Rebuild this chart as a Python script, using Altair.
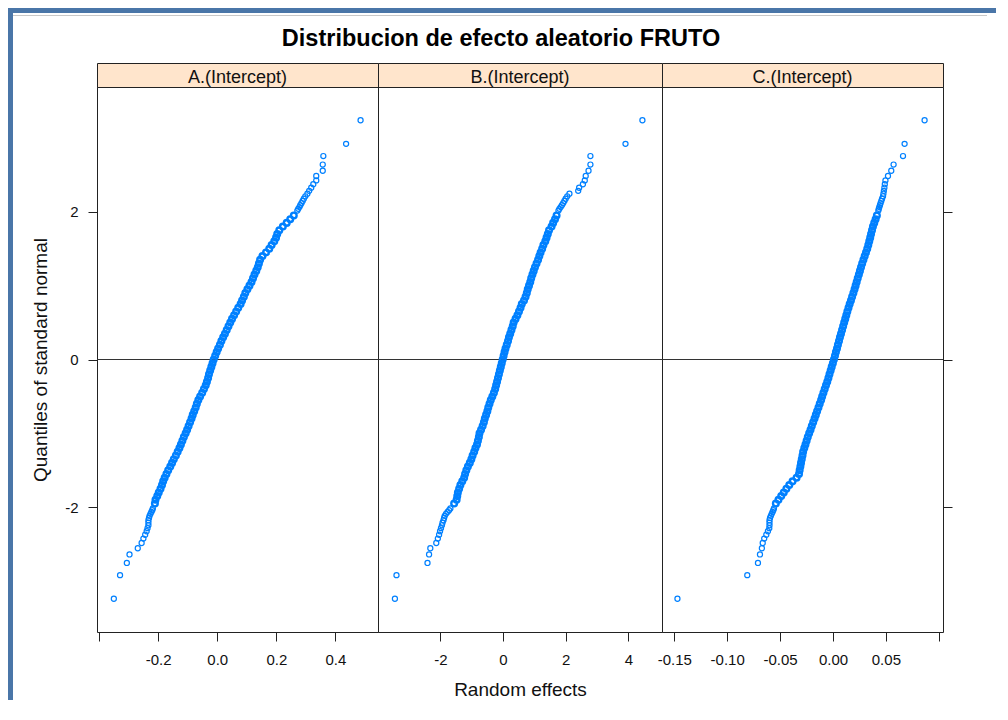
import altair as alt
import pandas as pd

# ---------------- data ----------------
# theoretical quantiles of the standard normal (shared by the three panels)
normal_quantiles = [
    3.24, 2.92, 2.755, 2.64, 2.556, 2.485, 2.425, 2.373, 2.326, 2.284,
    2.245, 2.21, 2.177, 2.146, 2.117, 2.09, 2.064, 2.04, 2.016,
    1.95, 1.90, 1.85, 1.80, 1.75, 1.70, 1.65, 1.60, 1.55, 1.50,
    1.45, 1.40, 1.35, 1.30, 1.25, 1.20, 1.15, 1.10, 1.05, 1.00,
    0.95, 0.90, 0.85, 0.80, 0.75, 0.70, 0.65, 0.60, 0.55, 0.50,
    0.45, 0.40, 0.35, 0.30, 0.25, 0.20, 0.15, 0.10, 0.05, 0.00,
    -0.05, -0.10, -0.15, -0.20, -0.25, -0.30, -0.35, -0.40, -0.45, -0.50,
    -0.55, -0.60, -0.65, -0.70, -0.75, -0.80, -0.85, -0.90, -0.95, -1.00,
    -1.05, -1.10, -1.15, -1.20, -1.25, -1.30, -1.35, -1.40, -1.45, -1.50,
    -1.55, -1.60, -1.65, -1.70, -1.75, -1.80, -1.85, -1.90, -1.95,
    -2.016, -2.04, -2.064, -2.09, -2.117, -2.146, -2.177, -2.21, -2.245, -2.284,
    -2.326, -2.373, -2.425, -2.485, -2.556, -2.64, -2.755, -2.92, -3.24,
]

# random effects, panel A
re_A = [
    0.485, 0.436, 0.359, 0.357, 0.357, 0.335, 0.335, 0.325, 0.318, 0.311,
    0.305, 0.298, 0.293, 0.289, 0.285, 0.281, 0.278, 0.274, 0.271,
    0.259, 0.247, 0.235, 0.222, 0.210, 0.203, 0.199, 0.193, 0.184, 0.176,
    0.165, 0.153, 0.145, 0.141, 0.137, 0.132, 0.126, 0.121, 0.116, 0.109,
    0.102, 0.095, 0.090, 0.084, 0.079, 0.071, 0.064, 0.057, 0.050, 0.044,
    0.038, 0.032, 0.026, 0.020, 0.014, 0.009, 0.003, -0.002, -0.007, -0.012,
    -0.016, -0.020, -0.024, -0.028, -0.031, -0.035, -0.039, -0.045, -0.051, -0.058,
    -0.064, -0.069, -0.073, -0.078, -0.083, -0.087, -0.092, -0.097, -0.102, -0.107,
    -0.113, -0.118, -0.123, -0.128, -0.134, -0.140, -0.147, -0.153, -0.159, -0.166,
    -0.172, -0.178, -0.183, -0.187, -0.192, -0.198, -0.203, -0.209, -0.211,
    -0.218, -0.220, -0.223, -0.226, -0.229, -0.231, -0.233, -0.233, -0.233, -0.236,
    -0.239, -0.244, -0.250, -0.256, -0.269, -0.297, -0.306, -0.329, -0.350,
]

# random effects, panel B
re_B = [
    4.45, 3.91, 2.79, 2.79, 2.73, 2.64, 2.61, 2.55, 2.43, 2.40,
    2.12, 2.05, 2.00, 1.96, 1.92, 1.88, 1.84, 1.80, 1.77,
    1.71, 1.66, 1.60, 1.55, 1.47, 1.43, 1.39, 1.35, 1.29, 1.25,
    1.20, 1.16, 1.12, 1.07, 1.02, 0.98, 0.94, 0.90, 0.87, 0.83,
    0.79, 0.76, 0.72, 0.67, 0.60, 0.56, 0.51, 0.46, 0.40, 0.34,
    0.31, 0.27, 0.23, 0.19, 0.16, 0.12, 0.08, 0.05, 0.02, -0.01,
    -0.04, -0.07, -0.10, -0.13, -0.16, -0.19, -0.22, -0.25, -0.29, -0.34,
    -0.39, -0.43, -0.47, -0.50, -0.54, -0.58, -0.61, -0.65, -0.70, -0.75,
    -0.77, -0.80, -0.83, -0.88, -0.92, -0.97, -1.01, -1.06, -1.12, -1.17,
    -1.21, -1.24, -1.30, -1.36, -1.40, -1.44, -1.46, -1.48, -1.56,
    -1.68, -1.72, -1.77, -1.82, -1.86, -1.88, -1.90, -1.93, -1.95, -1.98,
    -2.01, -2.04, -2.08, -2.13, -2.32, -2.36, -2.41, -3.40, -3.45,
]

# random effects, panel C
re_C = [
    0.0866, 0.0677, 0.0662, 0.0573, 0.0551, 0.0520, 0.0496, 0.0490, 0.0486, 0.0481,
    0.0477, 0.0473, 0.0464, 0.0457, 0.0450, 0.0444, 0.0438, 0.0433, 0.0429,
    0.0415, 0.0403, 0.0390, 0.0378, 0.0369, 0.0360, 0.0352, 0.0343, 0.0334, 0.0324,
    0.0312, 0.0300, 0.0288, 0.0276, 0.0265, 0.0255, 0.0245, 0.0234, 0.0224, 0.0214,
    0.0204, 0.0193, 0.0181, 0.0170, 0.0158, 0.0147, 0.0136, 0.0126, 0.0116, 0.0106,
    0.0096, 0.0086, 0.0076, 0.0066, 0.0057, 0.0047, 0.0038, 0.0028, 0.0019, 0.0009,
    -0.0001, -0.0012, -0.0022, -0.0033, -0.0043, -0.0054, -0.0066, -0.0078, -0.0090, -0.0102,
    -0.0112, -0.0125, -0.0137, -0.0150, -0.0162, -0.0174, -0.0187, -0.0200, -0.0212, -0.0225,
    -0.0238, -0.0249, -0.0260, -0.0271, -0.0282, -0.0288, -0.0295, -0.0302, -0.0308, -0.0315,
    -0.0321, -0.0344, -0.0382, -0.0413, -0.0440, -0.0465, -0.0489, -0.0515, -0.0540,
    -0.0558, -0.0564, -0.0571, -0.0579, -0.0587, -0.0595, -0.0600, -0.0600, -0.0600, -0.0602,
    -0.0615, -0.0630, -0.0650, -0.0664, -0.0672, -0.0690, -0.0709, -0.0810, -0.1470,
]

panel_labels = ["A.(Intercept)", "B.(Intercept)", "C.(Intercept)"]
ticks_A = [-0.4, -0.2, 0.0, 0.2, 0.4]
ticks_B = [-4, -2, 0, 2, 4]
ticks_C = [-0.15, -0.10, -0.05, 0.00, 0.05, 0.10]
ticks_y = [-2, 0, 2]

# ---------------- styling ----------------
FONT = "Liberation Sans"
POINT_COLOR = "#0080ff"
STRIP_FILL = "#ffe5cc"
FRAME_BLUE = "#4a76a8"
LINE = "#222222"
PLOT_H = 545
STRIP_H = 24
Y_DOMAIN = [-3.69, 3.69]
MINUS = "\u2212"


def fix_minus(expr):
    return "replace(" + expr + ", '" + MINUS + "', '-')"


def blank(w, h, fill=None):
    if fill:
        view = alt.ViewBackground(fill=fill, stroke="transparent", strokeWidth=0)
    else:
        view = alt.ViewBackground(stroke="transparent", strokeWidth=0)
    empty = pd.DataFrame({"t": pd.Series([], dtype="object")})
    return alt.Chart(empty).mark_text().encode(
        text="t:N"
    ).properties(width=w, height=h, view=view)


def y_enc(kind):
    if kind == "left":
        ax = alt.Axis(
            orient="left", values=ticks_y, tickSize=9, tickColor=LINE,
            labelPadding=10, labelFont=FONT, labelFontSize=15, labelColor="#111",
            labelExpr=fix_minus("format(datum.value, 'd')"), labelFlush=False,
            title="Quantiles of standard normal", titleFont=FONT, titleFontSize=19,
            titleFontWeight="normal", titleColor="#111", titlePadding=14,
            domain=False, grid=False,
        )
    elif kind == "right":
        ax = alt.Axis(
            orient="right", values=ticks_y, tickSize=9, tickColor=LINE,
            labels=False, title=None, domain=False, grid=False,
        )
    else:
        ax = None
    return alt.Y("y:Q", scale=alt.Scale(domain=Y_DOMAIN, nice=False, zero=False), axis=ax)


def panel(xs, domain, ticks, label_expr, width, ykind, xtitle):
    df = pd.DataFrame({"x": xs, "y": normal_quantiles})
    axis_kw = dict(
        values=ticks, tickSize=9, tickColor=LINE, labelPadding=11,
        labelFont=FONT, labelFontSize=15, labelColor="#111",
        labelExpr=label_expr, labelFlush=False, labelOverlap=False,
        domain=False, grid=False,
    )
    if xtitle:
        axis_kw.update(title=xtitle, titleFont=FONT, titleFontSize=19,
                       titleFontWeight="normal", titleColor="#111", titlePadding=13)
    else:
        axis_kw.update(title=None)
    pts = alt.Chart(df).mark_point(
        shape="circle", filled=False, color=POINT_COLOR, opacity=1
    ).encode(
        x=alt.X("x:Q", scale=alt.Scale(domain=domain, nice=False, zero=False),
                axis=alt.Axis(**axis_kw)),
        y=y_enc(ykind),
        # dense central run drawn heavier so that it reads as the solid band of the original
        strokeWidth=alt.condition("abs(datum.y) > 1.98", alt.value(1.2), alt.value(2.4)),
        size=alt.condition("abs(datum.y) > 1.98", alt.value(26), alt.value(32)),
    )
    zero = alt.Chart(pd.DataFrame({"y": [0.0]})).mark_rule(
        color="#333333", strokeWidth=1
    ).encode(y=y_enc(ykind))
    return alt.layer(zero, pts).properties(
        width=width, height=PLOT_H,
        view=alt.ViewBackground(stroke=LINE, strokeWidth=1),
    )


def strip(label, width):
    return alt.Chart(pd.DataFrame({"label": [label]})).mark_text(
        font=FONT, fontSize=18, color="#111", baseline="middle", dy=3
    ).encode(text="label:N").properties(
        width=width, height=STRIP_H,
        view=alt.ViewBackground(fill=STRIP_FILL, stroke=LINE, strokeWidth=1),
    )


W_A, W_B, W_C = 281, 284, 281

plot_A = panel(re_A, [-0.407, 0.544], ticks_A,
               "datum.value < -0.3 ? '' : " + fix_minus("format(datum.value, '.1f')"),
               W_A, "left", None)
plot_B = panel(re_B, [-3.99, 5.075], ticks_B,
               "datum.value < -3 ? '' : " + fix_minus("format(datum.value, 'd')"),
               W_B, "none", "Random effects")
plot_C = panel(re_C, [-0.1616, 0.104], ticks_C,
               "datum.value > 0.09 ? '' : " + fix_minus("format(datum.value, '.2f')"),
               W_C, "right", None)

grid = alt.concat(
    blank(84, STRIP_H), strip(panel_labels[0], W_A), strip(panel_labels[1], W_B), strip(panel_labels[2], W_C),
    blank(84, PLOT_H), plot_A, plot_B, plot_C,
    columns=4, spacing=0, bounds="flush",
    title=alt.Title(
        "Distribucion de efecto aleatorio FRUTO", font=FONT, fontSize=23.5,
        fontWeight="bold", color="#000", anchor="middle", frame="bounds",
        offset=12, dx=18,
    ),
)

header = alt.vconcat(blank(983, 5, FRAME_BLUE), blank(974, 1, "#c8c8c8"), spacing=2)
right_col = alt.vconcat(header, grid, spacing=11)
chart = alt.hconcat(blank(5, 692, FRAME_BLUE), right_col, spacing=0).properties(
    padding=0, background="white"
).configure_view(stroke="transparent")

chart.save("out.html", embed_options={"renderer": "svg", "actions": False})
